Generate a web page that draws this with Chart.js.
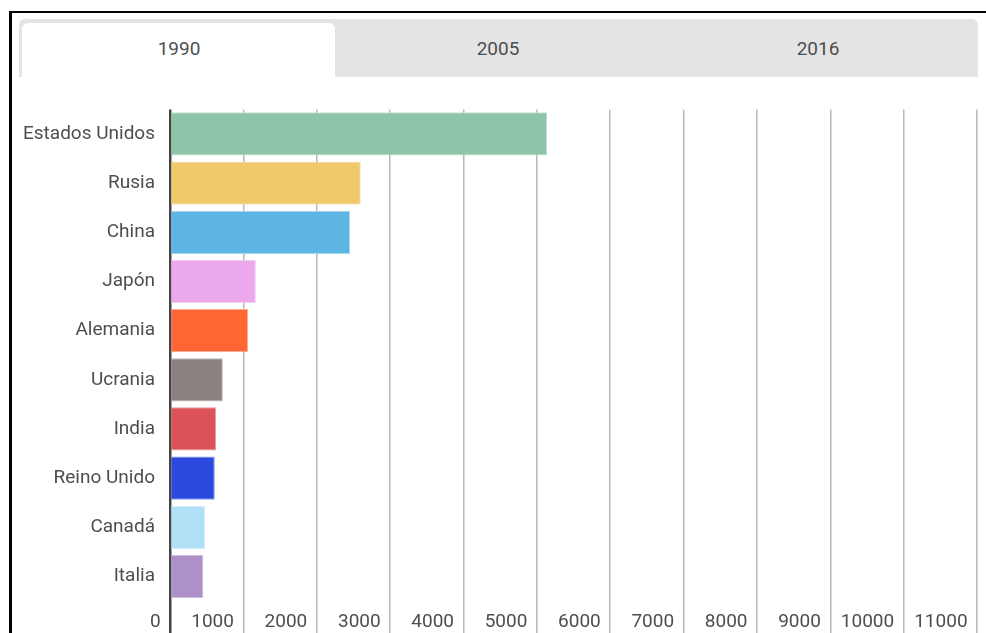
<!DOCTYPE html>
<html>
<head>
<meta charset="utf-8">
<script src="https://cdn.jsdelivr.net/npm/chart.js@4.4.1/dist/chart.umd.min.js"></script>
<style>
    body { margin: 0; background: #fff; font-family: Roboto, sans-serif; }
    .frame {
        position: absolute; left: 9px; top: 11px; width: 1000px; height: 700px;
        border-top: 2px solid #000; border-left: 3px solid #000;
    }
    .tabbar {
        position: absolute; left: 19px; top: 19px; width: 959px; height: 58px;
        background: #e4e4e4; border-radius: 6px 6px 0 0;
    }
    .tab-active {
        position: absolute; left: 22px; top: 23px; width: 313px; height: 54px;
        background: #fff; border-radius: 6px 6px 0 0;
    }
    .tab-label {
        position: absolute; top: 38px; width: 320px; text-align: center;
        font-size: 19px; color: #4e4e4e; line-height: 22px;
    }
    .chart-box { position: absolute; left: 10px; top: 83px; width: 976px; height: 550px; }
</style>
</head>
<body>
<div class="frame"></div>
<div class="tabbar"></div>
<div class="tab-active"></div>
<div class="tab-label" id="tab0" style="left:19px"></div>
<div class="tab-label" id="tab1" style="left:338px"></div>
<div class="tab-label" id="tab2" style="left:658px"></div>
<div class="chart-box"><canvas id="chart1" width="976" height="550"></canvas></div>

<script>
    // tabs (años) y datos del año activo (1990)
    years = ["1990", "2005", "2016"];
    countries = ["Estados Unidos", "Rusia", "China", "Japón", "Alemania", "Ucrania", "India", "Reino Unido", "Canadá", "Italia"];
    values1990 = [5140, 2600, 2455, 1170, 1065, 720, 630, 610, 480, 455];
    barColors = ["#8ec4a8", "#efc96a", "#5db5e4", "#eba8ec", "#fe6734", "#8b817e", "#db5257", "#2b49dd", "#b0dff6", "#ad90c7"];
    borderColors = ["#c2e0cf", "#f7e2b0", "#a9d7f0", "#f4cff5", "#feab8e", "#bdb6b4", "#eb9a9d", "#8c9bea", "#d6eefa", "#d2c1e1"];
    xTicks = [0, 1000, 2000, 3000, 4000, 5000, 6000, 7000, 8000, 9000, 10000, 11000];

    for (var i = 0; i < years.length; i++) {
        document.getElementById("tab" + i).textContent = years[i];
    }

    Chart.defaults.font.family = "Roboto";
    Chart.defaults.font.size = 19;
    Chart.defaults.color = "#4e4e4e";

    var chrt = document.getElementById("chart1").getContext("2d");
    var chartId = new Chart(chrt, {
        type: 'bar',
        data: {
            labels: countries,
            datasets: [{
                label: years[0],
                data: values1990,
                backgroundColor: barColors,
                borderColor: borderColors,
                borderWidth: 1,
                borderSkipped: 'start',
                barPercentage: 0.88,
                categoryPercentage: 1
            }]
        },
        options: {
            indexAxis: 'y',
            responsive: false,
            animation: false,
            layout: { padding: { top: 7, right: 9, left: 0, bottom: 0 } },
            plugins: {
                legend: { display: false },
                tooltip: { enabled: false }
            },
            scales: {
                x: {
                    min: xTicks[0],
                    max: xTicks[xTicks.length - 1],
                    afterFit: function (scale) { scale.height = 32; },
                    afterBuildTicks: function (scale) {
                        scale.ticks = xTicks.map(function (v) { return { value: v }; });
                    },
                    border: { display: false },
                    grid: {
                        drawTicks: true,
                        tickLength: 32,
                        color: function (ctx) { return ctx.tick && ctx.tick.value === 0 ? '#444' : '#b8b8b8'; },
                        lineWidth: function (ctx) { return ctx.tick && ctx.tick.value === 0 ? 2.5 : 1.5; }
                    },
                    ticks: {
                        align: 'end',
                        padding: -22,
                        maxRotation: 0,
                        autoSkip: false,
                        color: '#4e4e4e',
                        callback: function (v) { return v + '  '; }
                    }
                },
                y: {
                    afterFit: function (scale) { scale.width = 160; },
                    border: { display: false },
                    grid: { display: false, drawTicks: false },
                    ticks: { padding: 15, color: '#4e4e4e' }
                }
            }
        }
    });
</script>
</body>
</html>
